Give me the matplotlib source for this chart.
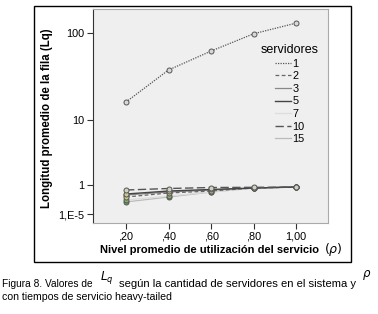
import numpy as np
import matplotlib
matplotlib.use("Agg")
import matplotlib.pyplot as plt
from matplotlib.patches import Rectangle
from matplotlib.lines import Line2D

plt.rcParams['font.family'] = ['Liberation Sans', 'DejaVu Sans']

# ---- data ----
rho = [0.2, 0.4, 0.6, 0.8, 1.0]
x_ticklabels = [",20", ",40", ",60", ",80", "1,00"]
y_ticks = [1e-5, 1, 10, 100]
y_ticklabels = ["1,E-5", "1", "10", "100"]
servers = ["1", "2", "3", "5", "7", "10", "15"]
lq_1 = [16.1, 37.6, 62.0, 98.0, 130.0]
lq_2 = [0.0085, 0.042, 0.092, 0.30, 0.45]
lq_3 = [0.019, 0.062, 0.137, 0.30, 0.45]
lq_5 = [0.028, 0.092, 0.17, 0.30, 0.45]
lq_7 = [0.0026, 0.0126, 0.062, 0.30, 0.45]
lq_10 = [0.137, 0.25, 0.37, 0.40, 0.45]
lq_15 = [0.0012, 0.0085, 0.062, 0.30, 0.45]

# ---- custom SPSS-like y scale (piecewise log) ----
_L = np.array([-5.0, 0.0, 1.0, 2.0])
_H = np.array([0.0, 29.0, 94.0, 181.0])


def _pw(x, xs, ys):
    x = np.asarray(x, dtype=float)
    out = np.interp(x, xs, ys)
    lo = x < xs[0]
    hi = x > xs[-1]
    s0 = (ys[1] - ys[0]) / (xs[1] - xs[0])
    s1 = (ys[-1] - ys[-2]) / (xs[-1] - xs[-2])
    out = np.where(lo, ys[0] + (x - xs[0]) * s0, out)
    out = np.where(hi, ys[-1] + (x - xs[-1]) * s1, out)
    return out


def fwd(v):
    v = np.clip(np.asarray(v, dtype=float), 1e-300, None)
    return _pw(np.log10(v), _L, _H)


def inv(h):
    return 10 ** _pw(h, _H, _L)


fig = plt.figure(figsize=(3.78, 3.14), dpi=100)
fig.patch.set_facecolor("white")

# outer box
fig.patches.append(Rectangle((34 / 378, 1 - 262 / 314), (351 - 34) / 378, (262 - 6) / 314,
                             transform=fig.transFigure, fill=False, edgecolor="black", lw=1.0))

ax = fig.add_axes([93 / 378, 1 - 223 / 314, (328 - 93) / 378, (223 - 9) / 314])
ax.set_facecolor("#efefef")
ax.set_yscale("function", functions=(fwd, inv))
ax.set_xlim(0.0447, 1.15)
ax.set_ylim(10 ** -6.55, 10 ** 2.276)

styles = {
    "1": dict(color="#555555", ls=(0, (1, 1)), lw=0.9, mfc="#d8d8d8"),
    "2": dict(color="#666666", ls=(0, (3, 2)), lw=0.9, mfc="#c8c890"),
    "3": dict(color="#888888", ls="-", lw=0.9, mfc="#c8c890"),
    "5": dict(color="#444444", ls="-", lw=1.0, mfc="#c8c890"),
    "7": dict(color="#dddddd", ls="-", lw=0.9, mfc="#88aa70"),
    "10": dict(color="#555555", ls=(0, (6, 2.5)), lw=1.0, mfc="#d0d0c0"),
    "15": dict(color="#bbbbbb", ls="-", lw=0.9, mfc="#70a060"),
}
series = {"1": lq_1, "2": lq_2, "3": lq_3, "5": lq_5, "7": lq_7, "10": lq_10, "15": lq_15}
order = ["15", "7", "3", "2", "5", "10", "1"]
for s in order:
    st = styles[s]
    ax.plot(rho, series[s], color=st["color"], ls=st["ls"], lw=st["lw"], marker="o",
            ms=3.6, mfc=st["mfc"], mec="#555555", mew=0.7, zorder=3)

ax.set_xticks(rho)
ax.set_xticklabels(x_ticklabels)
ax.set_yticks(y_ticks)
ax.set_yticklabels(y_ticklabels)
ax.minorticks_off()
ax.tick_params(axis="both", labelsize=7.8, length=4, width=0.8, color="#333333", pad=2)

for side in ["top", "right"]:
    ax.spines[side].set_color("#aaaaaa")
    ax.spines[side].set_linewidth(0.8)
ax.spines["left"].set_color("#333333")
ax.spines["left"].set_linewidth(0.8)
ax.spines["bottom"].set_color("#aaaaaa")
ax.spines["bottom"].set_linewidth(0.8)

fig.text(47 / 378, 1 - 118 / 314, "Longitud promedio de la fila (Lq)", rotation=90,
         ha="center", va="center", fontsize=8.3, fontweight="bold")
fig.text(209 / 378, 1 - 250 / 314, "Nivel promedio de utilización del servicio",
         ha="center", va="center", fontsize=8.0, fontweight="bold")
fig.text(333 / 378, 1 - 249 / 314, r"$(\rho)$", ha="center", va="center", fontsize=9,
         family=["DejaVu Serif"])

handles = [Line2D([], [], color=styles[s]["color"], ls=styles[s]["ls"], lw=styles[s]["lw"]) for s in servers]
leg = ax.legend(handles, servers, title="servidores", loc="upper center",
                bbox_to_anchor=((290 - 93) / 235, (223 - 44) / 214), frameon=False, fontsize=7.8,
                handlelength=1.4, handletextpad=0.15, labelspacing=0.24,
                borderaxespad=0.0, borderpad=0.0)
leg.get_title().set_fontsize(9)

# caption
fig.text(2 / 378, 1 - 284 / 314, "Figura 8. Valores de", fontsize=7.3, ha="left", va="center")
fig.text(100 / 378, 1 - 278 / 314, r"$L_q$", fontsize=8.5, ha="left", va="center")
fig.text(119 / 378, 1 - 284 / 314, "según la cantidad de servidores en el sistema y",
         fontsize=8.1, ha="left", va="center")
fig.text(362 / 378, 1 - 275 / 314, r"$\rho$", fontsize=8.5, ha="left", va="center")
fig.text(2 / 378, 1 - 297 / 314, "con tiempos de servicio heavy-tailed", fontsize=7.6,
         ha="left", va="center")

fig.savefig("out.png", dpi=100)
